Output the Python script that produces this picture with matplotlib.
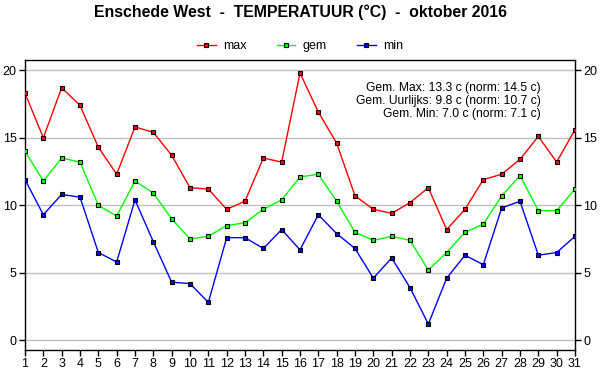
import matplotlib
matplotlib.use("Agg")
import matplotlib.pyplot as plt

plt.rcParams['font.family'] = ['Liberation Sans', 'DejaVu Sans']

days = list(range(1, 32))
tmax = [18.3, 15.0, 18.7, 17.4, 14.3, 12.3, 15.8, 15.4, 13.7, 11.3,
        11.2, 9.7, 10.3, 13.5, 13.2, 19.8, 16.9, 14.6, 10.7, 9.7,
        9.4, 10.2, 11.3, 8.2, 9.7, 11.9, 12.3, 13.4, 15.1, 13.2, 15.6]
tgem = [14.0, 11.8, 13.5, 13.2, 10.0, 9.2, 11.8, 10.9, 9.0, 7.5,
        7.7, 8.5, 8.7, 9.7, 10.4, 12.1, 12.3, 10.3, 8.0, 7.4,
        7.7, 7.4, 5.2, 6.5, 8.0, 8.6, 10.7, 12.2, 9.6, 9.6, 11.2]
tmin = [11.9, 9.3, 10.8, 10.6, 6.5, 5.8, 10.4, 7.3, 4.3, 4.2,
        2.8, 7.6, 7.6, 6.8, 8.2, 6.7, 9.3, 7.9, 6.8, 4.6,
        6.1, 3.9, 1.2, 4.6, 6.3, 5.6, 9.8, 10.3, 6.3, 6.5, 7.7]
series_names = ['max', 'gem', 'min']
series_colors = ['#ff0000', '#00ff00', '#0000ff']
yticks = [0, 5, 10, 15, 20]
title = 'Enschede West  -  TEMPERATUUR (°C)  -  oktober 2016'
notes = ['Gem. Max: 13.3 c (norm: 14.5 c)',
         'Gem. Uurlijks: 9.8 c (norm: 10.7 c)',
         'Gem. Min: 7.0 c (norm: 7.1 c)']

fig = plt.figure(figsize=(6, 3.9), dpi=100)
W, H = 600, 390
ax = fig.add_axes([25 / W, 1 - 350 / H, 550 / W, 290 / H])

for vals, name, col in zip([tmax, tgem, tmin], series_names, series_colors):
    ax.plot(days, vals, color=col, lw=1.0, marker='s', ms=3.5,
            mfc=col, mec='black', mew=0.8, label=name, zorder=3)

ax.set_xlim(1, 31)
ax.set_ylim(-0.72, 20.76)
ax.set_xticks(days)
ax.set_yticks(yticks)
ax.grid(axis='y', color='#c0c0c0', lw=1)
ax.set_axisbelow(True)
ax.tick_params(axis='both', labelsize=9, length=4, width=1, color='black', pad=2)
ax.tick_params(axis='y', which='both', right=True, labelright=True)
for s in ax.spines.values():
    s.set_color('black')
    s.set_linewidth(1)

fig.text(0.5, 1 - 12.5 / H, title, ha='center', va='center',
         fontsize=11.4, fontweight='bold')

leg = fig.legend(loc='center', bbox_to_anchor=(0.5, 1 - 46 / H), ncol=3,
                 frameon=False, fontsize=9, handlelength=1.5,
                 columnspacing=2.4, handletextpad=0.6)

for i, t in enumerate(notes):
    ax.text(541 / W, 1 - (87.7 + 13.3 * i) / H, t, transform=fig.transFigure,
            ha='right', va='center', fontsize=8.7)

fig.savefig('out.png', dpi=100)
